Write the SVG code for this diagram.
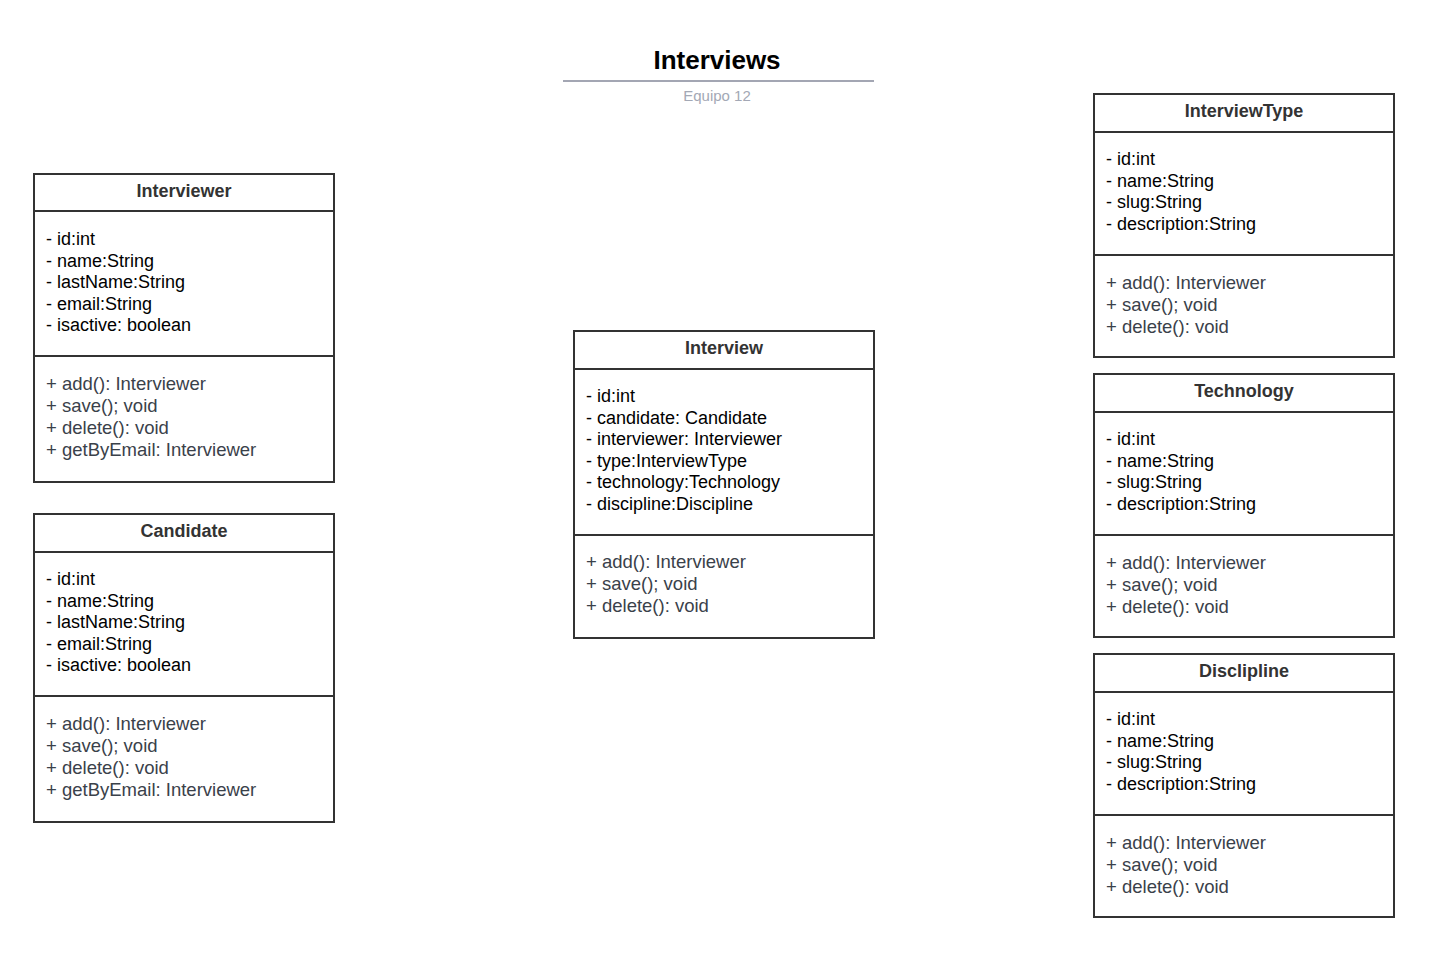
<svg xmlns="http://www.w3.org/2000/svg" width="1440" height="964" viewBox="0 0 1440 964">
<style>
.box{fill:#fff;stroke:#333;stroke-width:2}
.div{stroke:#333;stroke-width:2}
.hd{font-family:"Liberation Sans",Arial,sans-serif;font-size:18px;font-weight:bold;fill:#333;text-anchor:middle}
.at{font-family:"Liberation Sans",Arial,sans-serif;font-size:18px;fill:#000}
.me{font-family:"Liberation Sans",Arial,sans-serif;font-size:18.5px;fill:#3a414a}
.title{font-family:"Liberation Sans",Arial,sans-serif;font-size:26px;font-weight:bold;fill:#000;text-anchor:middle}
.sub{font-family:"Liberation Sans",Arial,sans-serif;font-size:15px;fill:#a3a8b5;text-anchor:middle}
</style>
<rect width="1440" height="964" fill="#fff"/>
<g id="title">
<text class="title" x="717" y="69">Interviews</text>
<line x1="563" y1="81" x2="874" y2="81" stroke="#a3a6b3" stroke-width="2"/>
<text class="sub" x="717" y="101">Equipo 12</text>
</g>
<g id="connectors"></g>
<g id="interviewer">
<rect class="box" x="34" y="174" width="300" height="308"/>
<line class="div" x1="34" y1="211" x2="334" y2="211"/>
<line class="div" x1="34" y1="356" x2="334" y2="356"/>
<text class="hd" x="184" y="197">Interviewer</text>
<text class="at" x="46" y="245">- id:int</text>
<text class="at" x="46" y="266.5">- name:String</text>
<text class="at" x="46" y="288">- lastName:String</text>
<text class="at" x="46" y="309.5">- email:String</text>
<text class="at" x="46" y="331">- isactive: boolean</text>
<text class="me" x="46" y="390">+ add(): Interviewer</text>
<text class="me" x="46" y="412">+ save(); void</text>
<text class="me" x="46" y="434">+ delete(): void</text>
<text class="me" x="46" y="456">+ getByEmail: Interviewer</text>
</g>
<g id="candidate">
<rect class="box" x="34" y="514" width="300" height="308"/>
<line class="div" x1="34" y1="552" x2="334" y2="552"/>
<line class="div" x1="34" y1="696" x2="334" y2="696"/>
<text class="hd" x="184" y="537">Candidate</text>
<text class="at" x="46" y="585">- id:int</text>
<text class="at" x="46" y="606.5">- name:String</text>
<text class="at" x="46" y="628">- lastName:String</text>
<text class="at" x="46" y="649.5">- email:String</text>
<text class="at" x="46" y="671">- isactive: boolean</text>
<text class="me" x="46" y="730">+ add(): Interviewer</text>
<text class="me" x="46" y="752">+ save(); void</text>
<text class="me" x="46" y="774">+ delete(): void</text>
<text class="me" x="46" y="796">+ getByEmail: Interviewer</text>
</g>
<g id="interview">
<rect class="box" x="574" y="331" width="300" height="307"/>
<line class="div" x1="574" y1="369" x2="874" y2="369"/>
<line class="div" x1="574" y1="535" x2="874" y2="535"/>
<text class="hd" x="724" y="354">Interview</text>
<text class="at" x="586" y="402">- id:int</text>
<text class="at" x="586" y="423.5">- candidate: Candidate</text>
<text class="at" x="586" y="445">- interviewer: Interviewer</text>
<text class="at" x="586" y="466.5">- type:InterviewType</text>
<text class="at" x="586" y="488">- technology:Technology</text>
<text class="at" x="586" y="509.5">- discipline:Discipline</text>
<text class="me" x="586" y="568">+ add(): Interviewer</text>
<text class="me" x="586" y="590">+ save(); void</text>
<text class="me" x="586" y="612">+ delete(): void</text>
</g>
<g id="interviewtype">
<rect class="box" x="1094" y="94" width="300" height="263"/>
<line class="div" x1="1094" y1="132" x2="1394" y2="132"/>
<line class="div" x1="1094" y1="255" x2="1394" y2="255"/>
<text class="hd" x="1244" y="117">InterviewType</text>
<text class="at" x="1106" y="165">- id:int</text>
<text class="at" x="1106" y="186.5">- name:String</text>
<text class="at" x="1106" y="208">- slug:String</text>
<text class="at" x="1106" y="229.5">- description:String</text>
<text class="me" x="1106" y="289">+ add(): Interviewer</text>
<text class="me" x="1106" y="311">+ save(); void</text>
<text class="me" x="1106" y="333">+ delete(): void</text>
</g>
<g id="technology">
<rect class="box" x="1094" y="374" width="300" height="263"/>
<line class="div" x1="1094" y1="412" x2="1394" y2="412"/>
<line class="div" x1="1094" y1="535" x2="1394" y2="535"/>
<text class="hd" x="1244" y="397">Technology</text>
<text class="at" x="1106" y="445">- id:int</text>
<text class="at" x="1106" y="466.5">- name:String</text>
<text class="at" x="1106" y="488">- slug:String</text>
<text class="at" x="1106" y="509.5">- description:String</text>
<text class="me" x="1106" y="569">+ add(): Interviewer</text>
<text class="me" x="1106" y="591">+ save(); void</text>
<text class="me" x="1106" y="613">+ delete(): void</text>
</g>
<g id="disclipline">
<rect class="box" x="1094" y="654" width="300" height="263"/>
<line class="div" x1="1094" y1="692" x2="1394" y2="692"/>
<line class="div" x1="1094" y1="815" x2="1394" y2="815"/>
<text class="hd" x="1244" y="677">Disclipline</text>
<text class="at" x="1106" y="725">- id:int</text>
<text class="at" x="1106" y="746.5">- name:String</text>
<text class="at" x="1106" y="768">- slug:String</text>
<text class="at" x="1106" y="789.5">- description:String</text>
<text class="me" x="1106" y="849">+ add(): Interviewer</text>
<text class="me" x="1106" y="871">+ save(); void</text>
<text class="me" x="1106" y="893">+ delete(): void</text>
</g>
</svg>
